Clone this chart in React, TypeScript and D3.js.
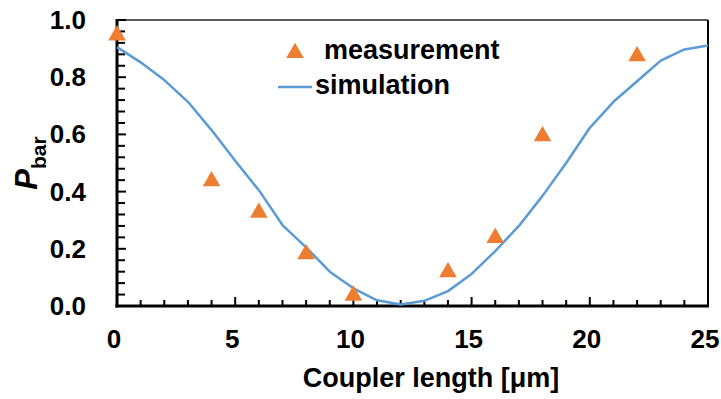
import React from "react";
import * as d3 from "d3";

const measX = [0, 4, 6, 8, 10, 14, 16, 18, 22];
const measY = [0.95, 0.44, 0.33, 0.185, 0.04, 0.122, 0.242, 0.597, 0.877];

const simX = [0, 1, 2, 3, 4, 5, 6, 7, 8, 9, 10, 11, 12, 13, 14, 15, 16, 17, 18, 19, 20, 21, 22, 23, 24, 25];
const simY = [0.905, 0.852, 0.79, 0.714, 0.615, 0.508, 0.405, 0.283, 0.205, 0.12, 0.062, 0.02, 0.005, 0.018, 0.052, 0.112, 0.192, 0.28, 0.385, 0.5, 0.623, 0.714, 0.786, 0.858, 0.897, 0.911];

const xMajorTicks = [0, 5, 10, 15, 20, 25];
const yMajorTicks = [0, 0.2, 0.4, 0.6, 0.8, 1.0];

const W = 721, H = 399;
const L = 117, R = 708, T = 20, B = 306;
const FONT = "'Liberation Sans', Arial, Helvetica, sans-serif";

export default function App() {
  const x = d3.scaleLinear().domain([0, 25]).range([L, R]);
  const y = d3.scaleLinear().domain([0, 1]).range([B, T]);
  const line = d3.line<number>().x((_, i) => x(simX[i])).y((d) => y(d));
  const xMinor = d3.range(0, 26, 1);
  const yMinor = d3.range(0, 26, 1).map((i) => i * 0.04);
  const tri = d3.symbol().type(d3.symbolTriangle).size(135)();

  return (
    <svg width={W} height={H} style={{ position: "absolute", left: 0, top: 0, background: "#fff" }} fontFamily={FONT}>
      <rect x={0} y={0} width={W} height={H} fill="#fff" />
      {/* frame */}
      <line x1={L} x2={R} y1={T} y2={T} stroke="#222" strokeWidth={1.5} />
      <line x1={R} x2={R} y1={T} y2={B} stroke="#000" strokeWidth={2} />
      {/* x ticks */}
      {xMinor.map((t) => {
        const major = t % 5 === 0;
        return <line key={"xt" + t} x1={x(t)} x2={x(t)} y1={B} y2={B - (major ? 9 : 6)} stroke="#000" strokeWidth={2} />;
      })}
      {/* y ticks */}
      {yMinor.map((t, i) => {
        const major = i % 5 === 0;
        return <line key={"yt" + i} x1={L} x2={L + (major ? 9 : 8)} y1={y(t)} y2={y(t)} stroke="#000" strokeWidth={2} />;
      })}
      <line x1={L} x2={L} y1={T - 1} y2={B + 1.5} stroke="#000" strokeWidth={3} />
      <line x1={L - 1.5} x2={R + 1} y1={B} y2={B} stroke="#000" strokeWidth={3} />
      {/* tick labels */}
      {yMajorTicks.map((t) => (
        <text key={"yl" + t} x={86} y={y(t) + 9} textAnchor="end" fontSize={26} fontWeight="bold">
          {t.toFixed(1)}
        </text>
      ))}
      {xMajorTicks.map((t) => (
        <text key={"xl" + t} x={x(t) - 3} y={348} textAnchor="middle" fontSize={26} fontWeight="bold">
          {t}
        </text>
      ))}
      {/* simulation */}
      <path d={line(simY) || ""} fill="none" stroke="#5B9BD5" strokeWidth={2.5} strokeLinejoin="round" />
      {/* measurement */}
      {measY.map((v, i) => (
        <path key={"m" + i} d={tri || ""} transform={`translate(${x(measX[i])},${y(v) + 1})`} fill="#ED7D31" />
      ))}
      {/* legend */}
      <path d={tri || ""} transform="translate(295,53)" fill="#ED7D31" />
      <text x={324} y={59} fontSize={27} fontWeight="bold">measurement</text>
      <line x1={278} x2={312} y1={87} y2={87} stroke="#5B9BD5" strokeWidth={2.5} />
      <text x={315} y={94} fontSize={27} fontWeight="bold">simulation</text>
      {/* axis titles */}
      <text x={431} y={387} textAnchor="middle" fontSize={27} fontWeight="bold">Coupler length [μm]</text>
      <text transform="translate(37,163) rotate(-90)" textAnchor="middle" fontWeight="bold">
        <tspan fontSize={31} fontStyle="italic">P</tspan>
        <tspan fontSize={21} dy={9}>bar</tspan>
      </text>
    </svg>
  );
}
